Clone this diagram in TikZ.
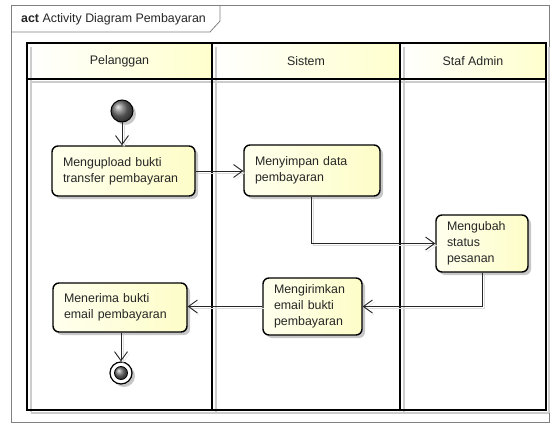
\documentclass[tikz,border=0pt]{standalone}
\usepackage{fontspec}
\setmainfont{Liberation Sans}
\usetikzlibrary{arrows.meta,shadows}

\definecolor{headyellow}{RGB}{255,255,205}
\definecolor{boxlight}{RGB}{255,255,238}
\definecolor{boxyellow}{RGB}{253,253,200}
\definecolor{framegray}{RGB}{128,128,128}

\begin{document}
\begin{tikzpicture}[x=1pt,y=-1pt,
  every node/.style={font=\fontsize{12.4}{16}\selectfont, text=black!85},
  lane/.style={draw=black, line width=1.6pt},
  laneshade/.style={draw=black!20, line width=1.6pt},
  head/.style={left color=white, right color=headyellow},
  headtext/.style={anchor=center},
  act/.style={draw=black, line width=1.4pt, rounded corners=6pt,
    left color=boxlight, right color=boxyellow,
    drop shadow={shadow xshift=3pt, shadow yshift=-3pt, opacity=0.22, fill=black},
    inner xsep=11pt, inner ysep=0pt, align=left, anchor=center},
  flow/.style={draw=black!85, line width=0.9pt,
    -{Straight Barb[length=9pt,width=13pt,line width=0.9pt]},
    preaction={draw=black!14, transform canvas={xshift=2pt,yshift=-2pt}}},
  ballnode/.style={circle, inner sep=0pt, shading=ball, ball color=black!55}
]
% canvas
\fill[white] (0,0) rectangle (551,425);
\useasboundingbox (0,0) rectangle (551,425);

% diagram frame with its name tab
\draw[framegray, line width=0.8pt] (11,5) rectangle (549,422);
\draw[framegray, line width=0.8pt] (11,32) -- (210,32) -- (220,21) -- (220,5);
\node[anchor=west, inner sep=0pt] (title) at (21,19) {\textbf{act} Activity Diagram Pembayaran};

% lane headers
\shade[head] (27,43) rectangle (212,79);
\shade[head] (212,43) rectangle (400,79);
\shade[head] (400,43) rectangle (546,79);

% soft edges inside the lanes
\draw[laneshade] (31,47) -- (31,412);
\draw[laneshade] (216,47) -- (216,412);
\draw[laneshade] (404,47) -- (404,412);
\draw[laneshade] (31,82) -- (546,82);
\draw[laneshade] (31,413) -- (549,413);
\draw[laneshade] (549,47) -- (549,413);

% lane borders
\draw[lane] (27,43) rectangle (546,410);
\draw[lane] (27,79) -- (546,79);
\draw[lane] (212,43) -- (212,410);
\draw[lane] (400,43) -- (400,410);

\node[headtext] (lane1) at (119.5,61) {Pelanggan};
\node[headtext] (lane2) at (306,61) {Sistem};
\node[headtext] (lane3) at (473,61) {Staf Admin};

% start and end
\node[ballnode, draw=black, line width=1pt, minimum size=22pt,
  drop shadow={shadow xshift=3pt, shadow yshift=-3pt, opacity=0.22, fill=black}] (init) at (122,111) {};
\node[circle, draw=black, line width=1.2pt, fill=white, minimum size=22pt, inner sep=0pt,
  drop shadow={shadow xshift=3pt, shadow yshift=-3pt, opacity=0.22, fill=black}] (fin) at (121,373) {};
\node[ballnode, draw=black, line width=0.8pt, minimum size=13pt] (fincore) at (fin) {};

% actions
\node[act, minimum height=50pt, text width=121pt] (upload) at (123.5,171)
  {Mengupload bukti\\transfer pembayaran};
\node[act, minimum height=51pt, text width=114pt] (simpan) at (312,170.5)
  {Menyimpan data\\pembayaran};
\node[act, minimum height=57pt, text width=70pt] (ubah) at (482,243.5)
  {Mengubah\\status\\pesanan};
\node[act, minimum height=57pt, text width=77pt] (kirim) at (312.5,306.5)
  {Mengirimkan\\email bukti\\pembayaran};
\node[act, minimum height=49pt, text width=112pt] (terima) at (120,307.5)
  {Menerima bukti\\email pembayaran};

% control flows
\draw[flow] (init) -- (init |- upload.north);
\draw[flow] (upload.east) -- (upload.east -| simpan.west);
\draw[flow] ([xshift=-1pt]simpan.south) |- (ubah.west);
\draw[flow] (ubah.south) |- (kirim.east);
\draw[flow] (kirim.west) -- (kirim.west -| terima.east);
\draw[flow] (terima.south -| fin) -- (fin.north);
\end{tikzpicture}
\end{document}
